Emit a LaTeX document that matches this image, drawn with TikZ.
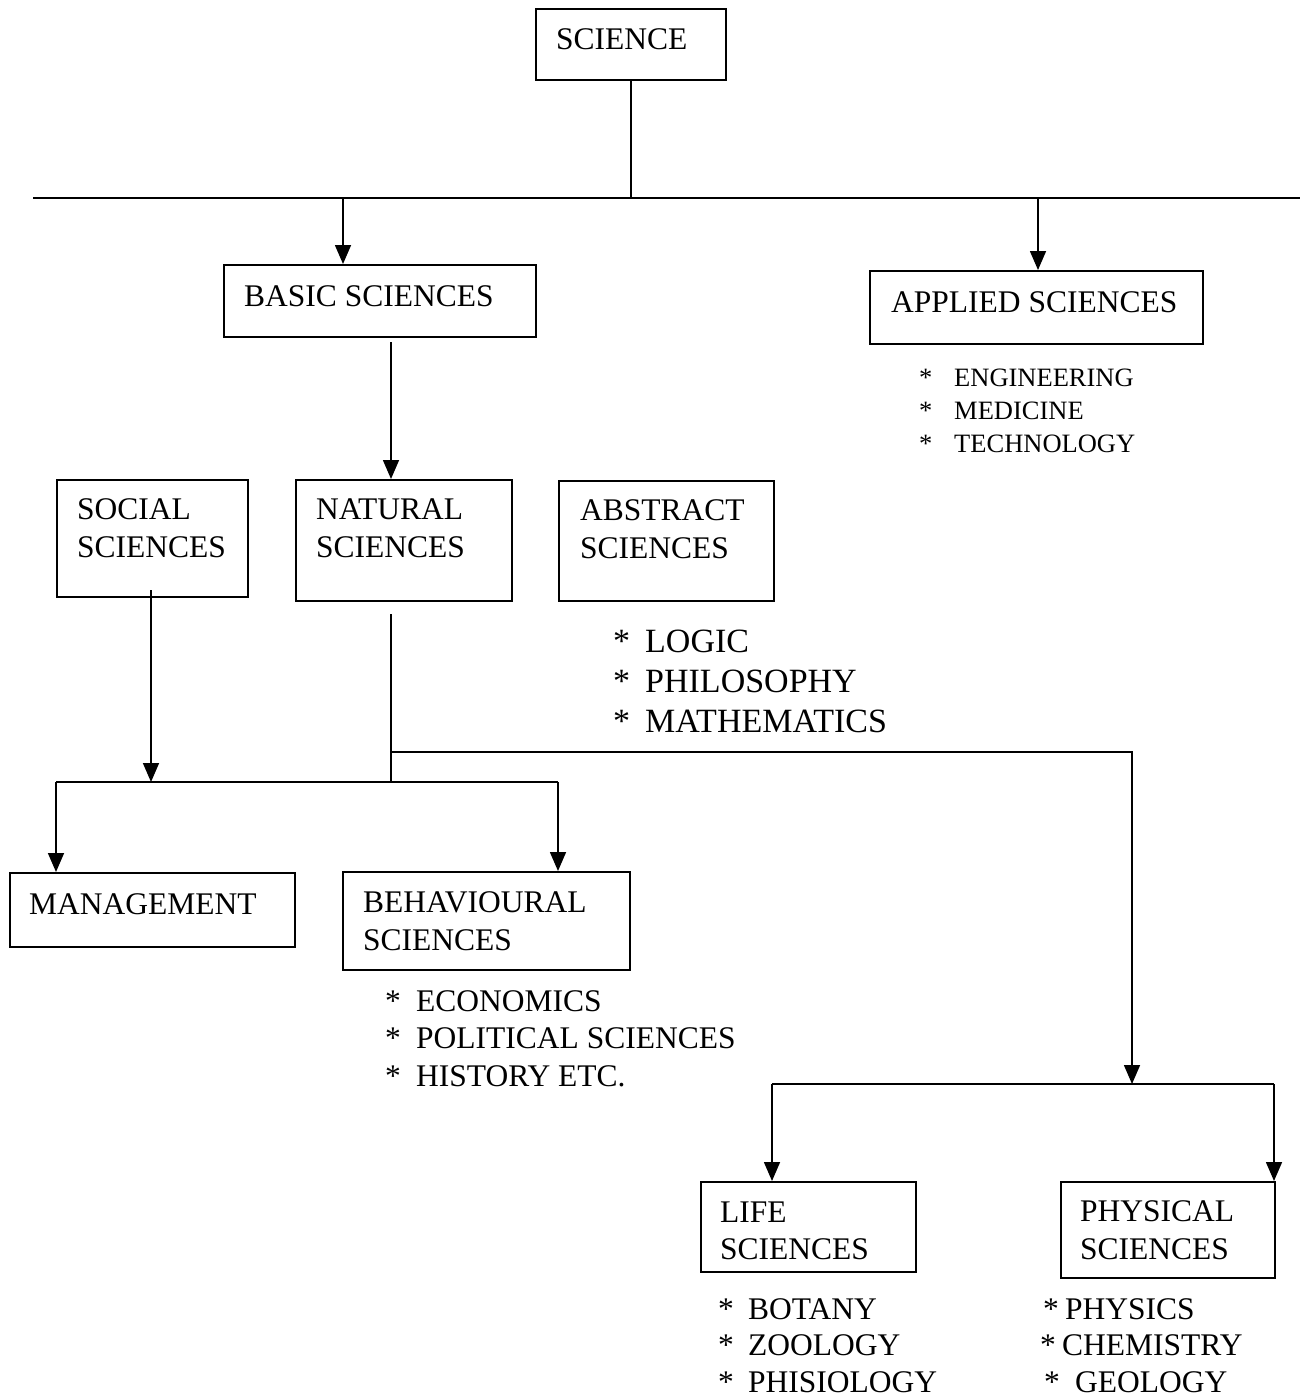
\documentclass[tikz,border=0pt]{standalone}
\usepackage{fontspec}
\setmainfont{Liberation Serif}
\usetikzlibrary{arrows.meta}
\tikzset{
  box/.style={draw, line width=1.6pt, inner sep=0pt, anchor=north west},
  lbl/.style={inner sep=0pt, anchor=base west, font=\fontsize{31.5}{36}\selectfont},
  sml/.style={inner sep=0pt, anchor=base west, font=\fontsize{26.5}{30}\selectfont},
  big/.style={inner sep=0pt, anchor=base west, font=\fontsize{34}{38}\selectfont},
  ln/.style={line width=1.6pt},
  arr/.style={line width=1.6pt, -{Triangle[length=19pt,width=16pt]}},
}
\newcommand{\itm}[2]{\makebox[#1pt][l]{*}#2}
\begin{document}
\begin{tikzpicture}[x=1pt,y=1pt]
\useasboundingbox (0,0) rectangle (1306,-1397);
% boxes
\node[box, minimum width=190pt, minimum height=71pt] (sci) at (535,-8) {};
\node[box, minimum width=312pt, minimum height=72pt] (basic) at (223,-264) {};
\node[box, minimum width=333pt, minimum height=73pt] (appl) at (869,-270) {};
\node[box, minimum width=191pt, minimum height=117pt] (soc) at (56,-479) {};
\node[box, minimum width=216pt, minimum height=121pt] (nat) at (295,-479) {};
\node[box, minimum width=215pt, minimum height=120pt] (abs) at (558,-480) {};
\node[box, minimum width=285pt, minimum height=74pt] (mgmt) at (9,-872) {};
\node[box, minimum width=287pt, minimum height=98pt] (beh) at (342,-871) {};
\node[box, minimum width=215pt, minimum height=90pt] (life) at (700,-1181) {};
\node[box, minimum width=214pt, minimum height=96pt] (phys) at (1060,-1181) {};
% box texts
\node[lbl] (scit) at (556,-49) {SCIENCE};
\node[lbl] (basict) at (244,-306) {BASIC SCIENCES};
\node[lbl] (applt) at (891,-312) {APPLIED SCIENCES};
\node[lbl] (soct1) at (77,-519) {SOCIAL};
\node[lbl] (soct2) at (77,-557) {SCIENCES};
\node[lbl] (natt1) at (316,-519) {NATURAL};
\node[lbl] (natt2) at (316,-557) {SCIENCES};
\node[lbl] (abst1) at (580,-520) {ABSTRACT};
\node[lbl] (abst2) at (580,-558) {SCIENCES};
\node[lbl] (mgmtt) at (29,-914) {MANAGEMENT};
\node[lbl] (beht1) at (363,-912) {BEHAVIOURAL};
\node[lbl] (beht2) at (363,-950) {SCIENCES};
\node[lbl] (lifet1) at (720,-1222) {LIFE};
\node[lbl] (lifet2) at (720,-1259) {SCIENCES};
\node[lbl] (physt1) at (1080,-1221) {PHYSICAL};
\node[lbl] (physt2) at (1080,-1259) {SCIENCES};
% lists
\node[sml] (ap1) at (919,-386) {\itm{35}{ENGINEERING}};
\node[sml] (ap2) at (919,-419) {\itm{35}{MEDICINE}};
\node[sml] (ap3) at (919,-452) {\itm{35}{TECHNOLOGY}};
\node[big] (ab1) at (613,-652) {\itm{32}{LOGIC}};
\node[big] (ab2) at (613,-692) {\itm{32}{PHILOSOPHY}};
\node[big] (ab3) at (613,-732) {\itm{32}{MATHEMATICS}};
\node[lbl] (be1) at (385,-1011) {\itm{31}{ECONOMICS}};
\node[lbl] (be2) at (385,-1048) {\itm{31}{POLITICAL SCIENCES}};
\node[lbl] (be3) at (385,-1086) {\itm{31}{HISTORY ETC.}};
\node[lbl] (li1) at (718,-1319) {\itm{30}{BOTANY}};
\node[lbl] (li2) at (718,-1355) {\itm{30}{ZOOLOGY}};
\node[lbl] (li3) at (718,-1392) {\itm{30}{PHISIOLOGY}};
\node[lbl] (ph1) at (1043,-1319) {\itm{22}{PHYSICS}};
\node[lbl] (ph2) at (1040,-1355) {\itm{22}{CHEMISTRY}};
\node[lbl] (ph3) at (1044,-1392) {\itm{31}{GEOLOGY}};
% junction coordinates
\coordinate (h1) at (33,-198);
\coordinate (h2) at (1300,-198);
\coordinate (jb) at (343,-198);
\coordinate (ja) at (1038,-198);
\coordinate (n0) at (391,-342);
\coordinate (s0) at (151,-590);
\coordinate (m1) at (56,-782);
\coordinate (m2) at (558,-782);
\coordinate (n1) at (391,-614);
\coordinate (b1) at (391,-752);
\coordinate (b2) at (1132,-752);
\coordinate (b3) at (1132,-1084);
\coordinate (l1) at (772,-1084);
\coordinate (l2) at (1274,-1084);
% connectors
\draw[ln] (sci.south) -- (sci.south |- h1);
\draw[ln] (h1) -- (h2);
\draw[arr] (jb) -- (jb |- basic.north);
\draw[arr] (ja) -- (ja |- appl.north);
\draw[arr] (n0) -- (n0 |- nat.north);
\draw[ln] (m1) -- (m2);
\draw[arr] (s0) -- (s0 |- m1);
\draw[arr] (m1) -- (m1 |- mgmt.north);
\draw[arr] (m2) -- (m2 |- beh.north);
\draw[ln] (n1) -- (n1 |- m1);
\draw[arr] (b1) -- (b2) -- (b3);
\draw[ln] (l1) -- (l2);
\draw[arr] (l1) -- (l1 |- life.north);
\draw[arr] (l2) -- (l2 |- phys.north);
\end{tikzpicture}
\end{document}
